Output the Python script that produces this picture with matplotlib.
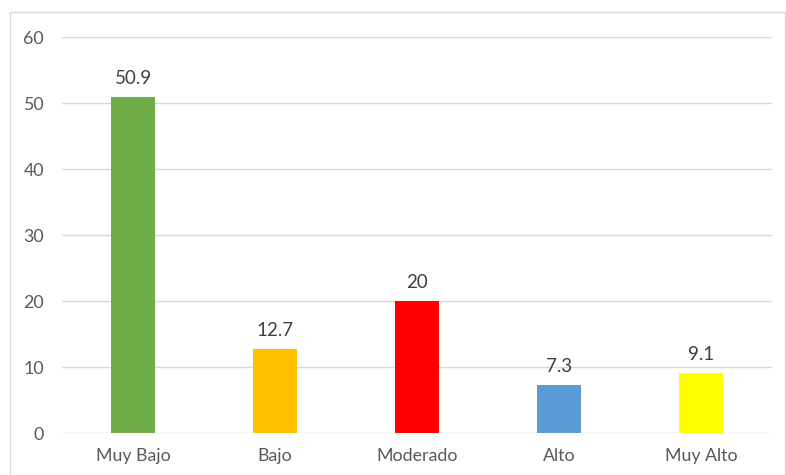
import matplotlib
matplotlib.use("Agg")
import matplotlib.pyplot as plt
from matplotlib.patches import Rectangle

categories = ["Muy Bajo", "Bajo", "Moderado", "Alto", "Muy Alto"]
values = [50.9, 12.7, 20, 7.3, 9.1]
labels = ["50.9", "12.7", "20", "7.3", "9.1"]
colors = ["#70AD47", "#FFC000", "#FF0000", "#5B9BD5", "#FFFF00"]

W, H = 786, 475
plt.rcParams["font.family"] = ["Lato", "DejaVu Sans"]
TXT = "#595959"
GRID = "#D9D9D9"

fig = plt.figure(figsize=(W / 100, H / 100), dpi=100)
fig.patch.set_facecolor("white")
# chart outer border
fig.add_artist(Rectangle((10 / W, -0.01), (785 - 10) / W, 1 - 12 / H + 0.01,
                         transform=fig.transFigure, fill=False,
                         edgecolor=GRID, linewidth=1.0))

ax = fig.add_axes([62 / W, 1 - 433 / H, (772 - 62) / W, (433 - 37) / H])
x = range(len(categories))
ax.bar(x, values, width=0.31, color=colors, zorder=3)
for xi, v, lab in zip(x, values, labels):
    ax.annotate(lab, (xi, v), xytext=(0, 7), textcoords="offset points",
                ha="center", va="bottom", fontsize=13.5, color="#404040")

ax.set_xlim(-0.5, len(categories) - 0.5)
ax.set_ylim(0, 60)
ax.set_yticks(range(0, 61, 10))
ax.set_xticks(list(x))
ax.set_xticklabels(categories)
ax.yaxis.grid(True, color=GRID, linewidth=1.0, zorder=0)
for s in ax.spines.values():
    s.set_visible(False)
ax.tick_params(axis="both", length=0, labelsize=12.8, colors=TXT)
ax.tick_params(axis="y", pad=13)
ax.tick_params(axis="x", pad=11)

fig.savefig("out.png", dpi=100)
